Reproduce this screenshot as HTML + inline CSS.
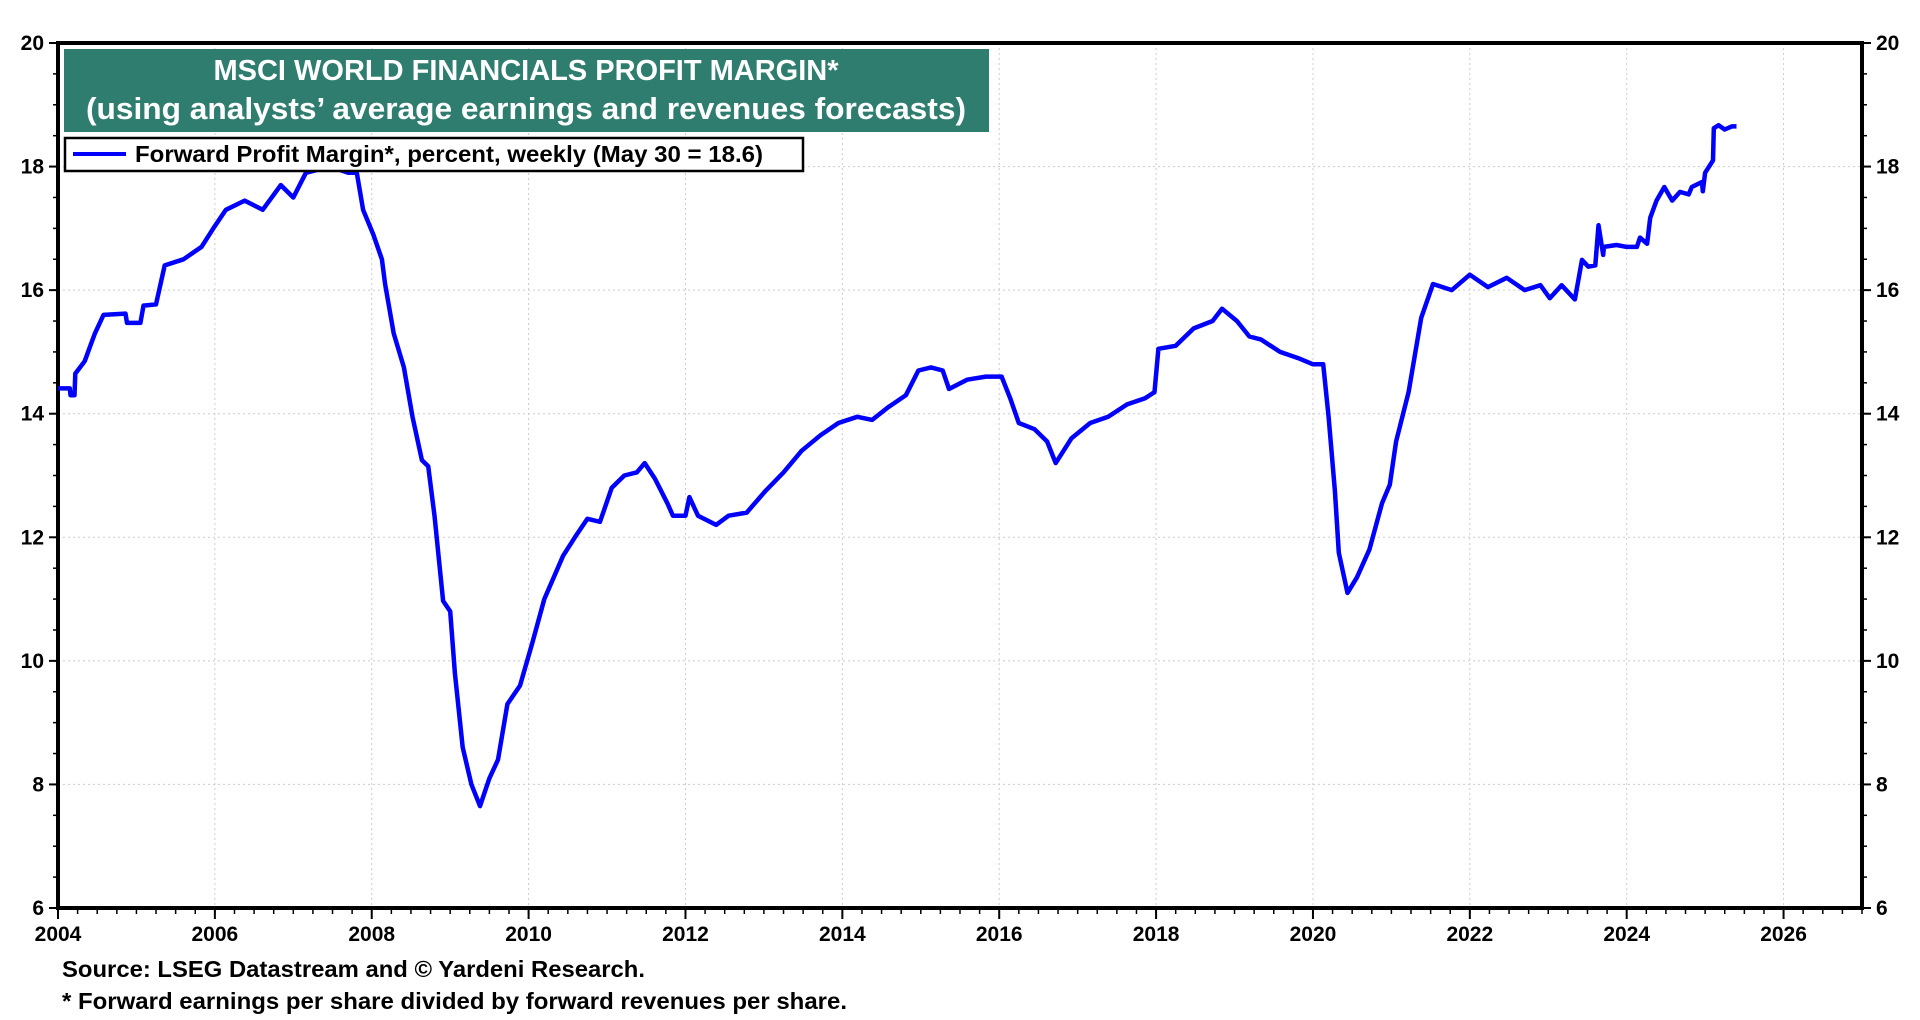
<!DOCTYPE html>
<html><head><meta charset="utf-8"><style>
html,body{margin:0;padding:0;background:#fff;width:1920px;height:1020px;overflow:hidden;font-family:"Liberation Sans",Arial,sans-serif;}
svg text{font-family:"Liberation Sans",Arial,sans-serif;font-weight:bold;}
</style></head><body>
<svg id="chart" width="1920" height="1020" xmlns="http://www.w3.org/2000/svg">
<g id="grid"></g>
<g id="axes"></g>
<g id="series"></g>
<g>
<rect x="64" y="49" width="925" height="83" fill="#2e7d6e"/>
<text x="526" y="80" font-size="29" fill="#fff" text-anchor="middle" textLength="625" lengthAdjust="spacingAndGlyphs">MSCI WORLD FINANCIALS PROFIT MARGIN*</text>
<text x="526" y="119" font-size="31" fill="#fff" text-anchor="middle" textLength="880" lengthAdjust="spacingAndGlyphs">(using analysts’ average earnings and revenues forecasts)</text>
</g>
<g>
<rect x="65" y="138" width="738" height="33" fill="#fff" stroke="#000" stroke-width="2.5"/>
<line x1="73" y1="154" x2="126" y2="154" stroke="#0000ff" stroke-width="4"/>
<text x="135" y="162" font-size="23" textLength="628" lengthAdjust="spacingAndGlyphs">Forward Profit Margin*, percent, weekly (May 30 = 18.6)</text>
</g>
<text x="62" y="977" font-size="23" textLength="583" lengthAdjust="spacingAndGlyphs">Source: LSEG Datastream and © Yardeni Research.</text>
<text x="62" y="1009" font-size="23" textLength="785" lengthAdjust="spacingAndGlyphs">* Forward earnings per share divided by forward revenues per share.</text>
</svg>
<script>
const years=[
2004.0,2004.15,2004.16,2004.21,2004.22,2004.34,2004.47,2004.58,2004.86,2004.88,
2005.05,2005.09,2005.25,2005.36,2005.6,2005.83,2005.98,2006.14,2006.38,2006.61,
2006.84,2007.0,2007.16,2007.47,2007.7,2007.81,2007.89,2008.02,2008.13,2008.17,
2008.28,2008.41,2008.52,2008.64,2008.72,2008.8,2008.91,2009.0,2009.06,2009.16,
2009.27,2009.38,2009.5,2009.61,2009.73,2009.89,2010.05,2010.2,2010.44,2010.59,
2010.75,2010.91,2011.06,2011.22,2011.38,2011.48,2011.61,2011.77,2011.84,2012.0,
2012.05,2012.16,2012.39,2012.55,2012.78,2013.02,2013.25,2013.48,2013.72,2013.95,
2014.19,2014.38,2014.58,2014.81,2014.97,2015.13,2015.28,2015.36,2015.59,2015.83,
2016.03,2016.14,2016.25,2016.45,2016.61,2016.72,2016.92,2017.16,2017.39,2017.63,
2017.86,2017.98,2018.03,2018.25,2018.48,2018.72,2018.84,2019.03,2019.19,2019.34,
2019.58,2019.81,2020.0,2020.13,2020.2,2020.28,2020.33,2020.44,2020.56,2020.72,
2020.88,2020.98,2021.06,2021.22,2021.38,2021.53,2021.77,2022.0,2022.23,2022.47,
2022.7,2022.9,2023.02,2023.17,2023.34,2023.43,2023.51,2023.6,2023.64,2023.7,
2023.71,2023.87,2024.0,2024.13,2024.17,2024.26,2024.3,2024.38,2024.48,2024.58,
2024.68,2024.79,2024.83,2024.96,2024.97,2025.0,2025.1,2025.11,2025.17,2025.25,
2025.34,2025.4];
const margins=[
14.41,14.41,14.3,14.3,14.65,14.85,15.3,15.6,15.62,15.47,
15.47,15.75,15.77,16.4,16.5,16.7,17.0,17.3,17.45,17.3,
17.7,17.5,17.9,18.0,17.9,17.9,17.3,16.9,16.5,16.1,
15.3,14.75,13.95,13.25,13.15,12.35,10.97,10.8,9.8,8.6,
8.0,7.65,8.1,8.4,9.3,9.6,10.3,11.0,11.7,12.0,
12.3,12.25,12.8,13.0,13.05,13.2,12.95,12.55,12.35,12.35,
12.65,12.35,12.2,12.35,12.4,12.75,13.05,13.4,13.65,13.85,
13.95,13.9,14.1,14.3,14.7,14.75,14.7,14.4,14.55,14.6,
14.6,14.25,13.85,13.75,13.55,13.2,13.6,13.85,13.95,14.15,
14.25,14.35,15.05,15.1,15.38,15.5,15.7,15.5,15.25,15.2,
15.0,14.9,14.8,14.8,13.95,12.75,11.75,11.1,11.35,11.8,
12.55,12.85,13.55,14.35,15.55,16.1,16.0,16.25,16.05,16.2,
16.0,16.08,15.87,16.08,15.85,16.49,16.38,16.4,17.05,16.57,
16.7,16.73,16.7,16.7,16.85,16.75,17.17,17.45,17.67,17.45,
17.59,17.55,17.67,17.75,17.6,17.9,18.1,18.62,18.67,18.6,
18.65,18.65];
const xTickLabels=["2004","2006","2008","2010","2012","2014","2016","2018","2020","2022","2024","2026"];
const yTickLabels=["6","8","10","12","14","16","18","20"];
const NS="http://www.w3.org/2000/svg";
const X0=58,X1=1862,Y0=908,Y1=43,XMIN=2004,XMAX=2027,YMIN=6,YMAX=20;
function xs(v){return X0+(v-XMIN)/(XMAX-XMIN)*(X1-X0);}
function ys(v){return Y0-(v-YMIN)/(YMAX-YMIN)*(Y0-Y1);}
function mk(tag,attrs,parent){const e=document.createElementNS(NS,tag);for(const k in attrs)e.setAttribute(k,attrs[k]);parent.appendChild(e);return e;}
const grid=document.getElementById('grid'),axes=document.getElementById('axes'),series=document.getElementById('series');
xTickLabels.forEach(l=>{const v=+l,x=xs(v);
 if(v>XMIN){const g=mk('line',{x1:x,x2:x,y1:Y1,y2:Y0,stroke:'#ccc','stroke-width':1,'stroke-dasharray':'2,3'},grid);
 
 }
 const t=mk('line',{x1:x,x2:x,y1:Y0,y2:Y0+11,stroke:'#000','stroke-width':2},axes);
 
 
 const tx=mk('text',{x:x,y:Y0+33,'font-size':21,'text-anchor':'middle'},axes);tx.textContent=l;
 
 });
for(let q=XMIN;q<=XMAX;q+=0.25){const x=xs(q);mk('line',{x1:x,x2:x,y1:Y0,y2:Y0+6,stroke:'#000','stroke-width':1.5},axes);}
yTickLabels.forEach(l=>{const v=+l,y=ys(v);
 if(v>YMIN&&v<YMAX){const g=mk('line',{x1:X0,x2:X1,y1:y,y2:y,stroke:'#ccc','stroke-width':1,'stroke-dasharray':'2,3'},grid);
 
 }
 mk('line',{x1:X0-9,x2:X0,y1:y,y2:y,stroke:'#000','stroke-width':2},axes);
 mk('line',{x1:X1,x2:X1+9,y1:y,y2:y,stroke:'#000','stroke-width':2},axes);
 const a=mk('text',{x:X0-14,y:y+7,'font-size':21,'text-anchor':'end'},axes);a.textContent=l;
 
 
 const b=mk('text',{x:X1+14,y:y+7,'font-size':21,'text-anchor':'start'},axes);b.textContent=l;
 
 });
for(let v=YMIN;v<=YMAX;v+=0.5){const y=ys(v);mk('line',{x1:X0-5,x2:X0,y1:y,y2:y,stroke:'#000','stroke-width':1.5},axes);mk('line',{x1:X1,x2:X1+5,y1:y,y2:y,stroke:'#000','stroke-width':1.5},axes);}
const frame=mk('rect',{x:X0,y:Y1,width:X1-X0,height:Y0-Y1,fill:'none',stroke:'#000','stroke-width':4},axes);


const pts=years.map((y,i)=>xs(y).toFixed(1)+','+ys(margins[i]).toFixed(1)).join(' ');
const line=mk('polyline',{points:pts,fill:'none',stroke:'#0000ff','stroke-width':4.5,'stroke-linejoin':'round'},series);


</script>
</body></html>
